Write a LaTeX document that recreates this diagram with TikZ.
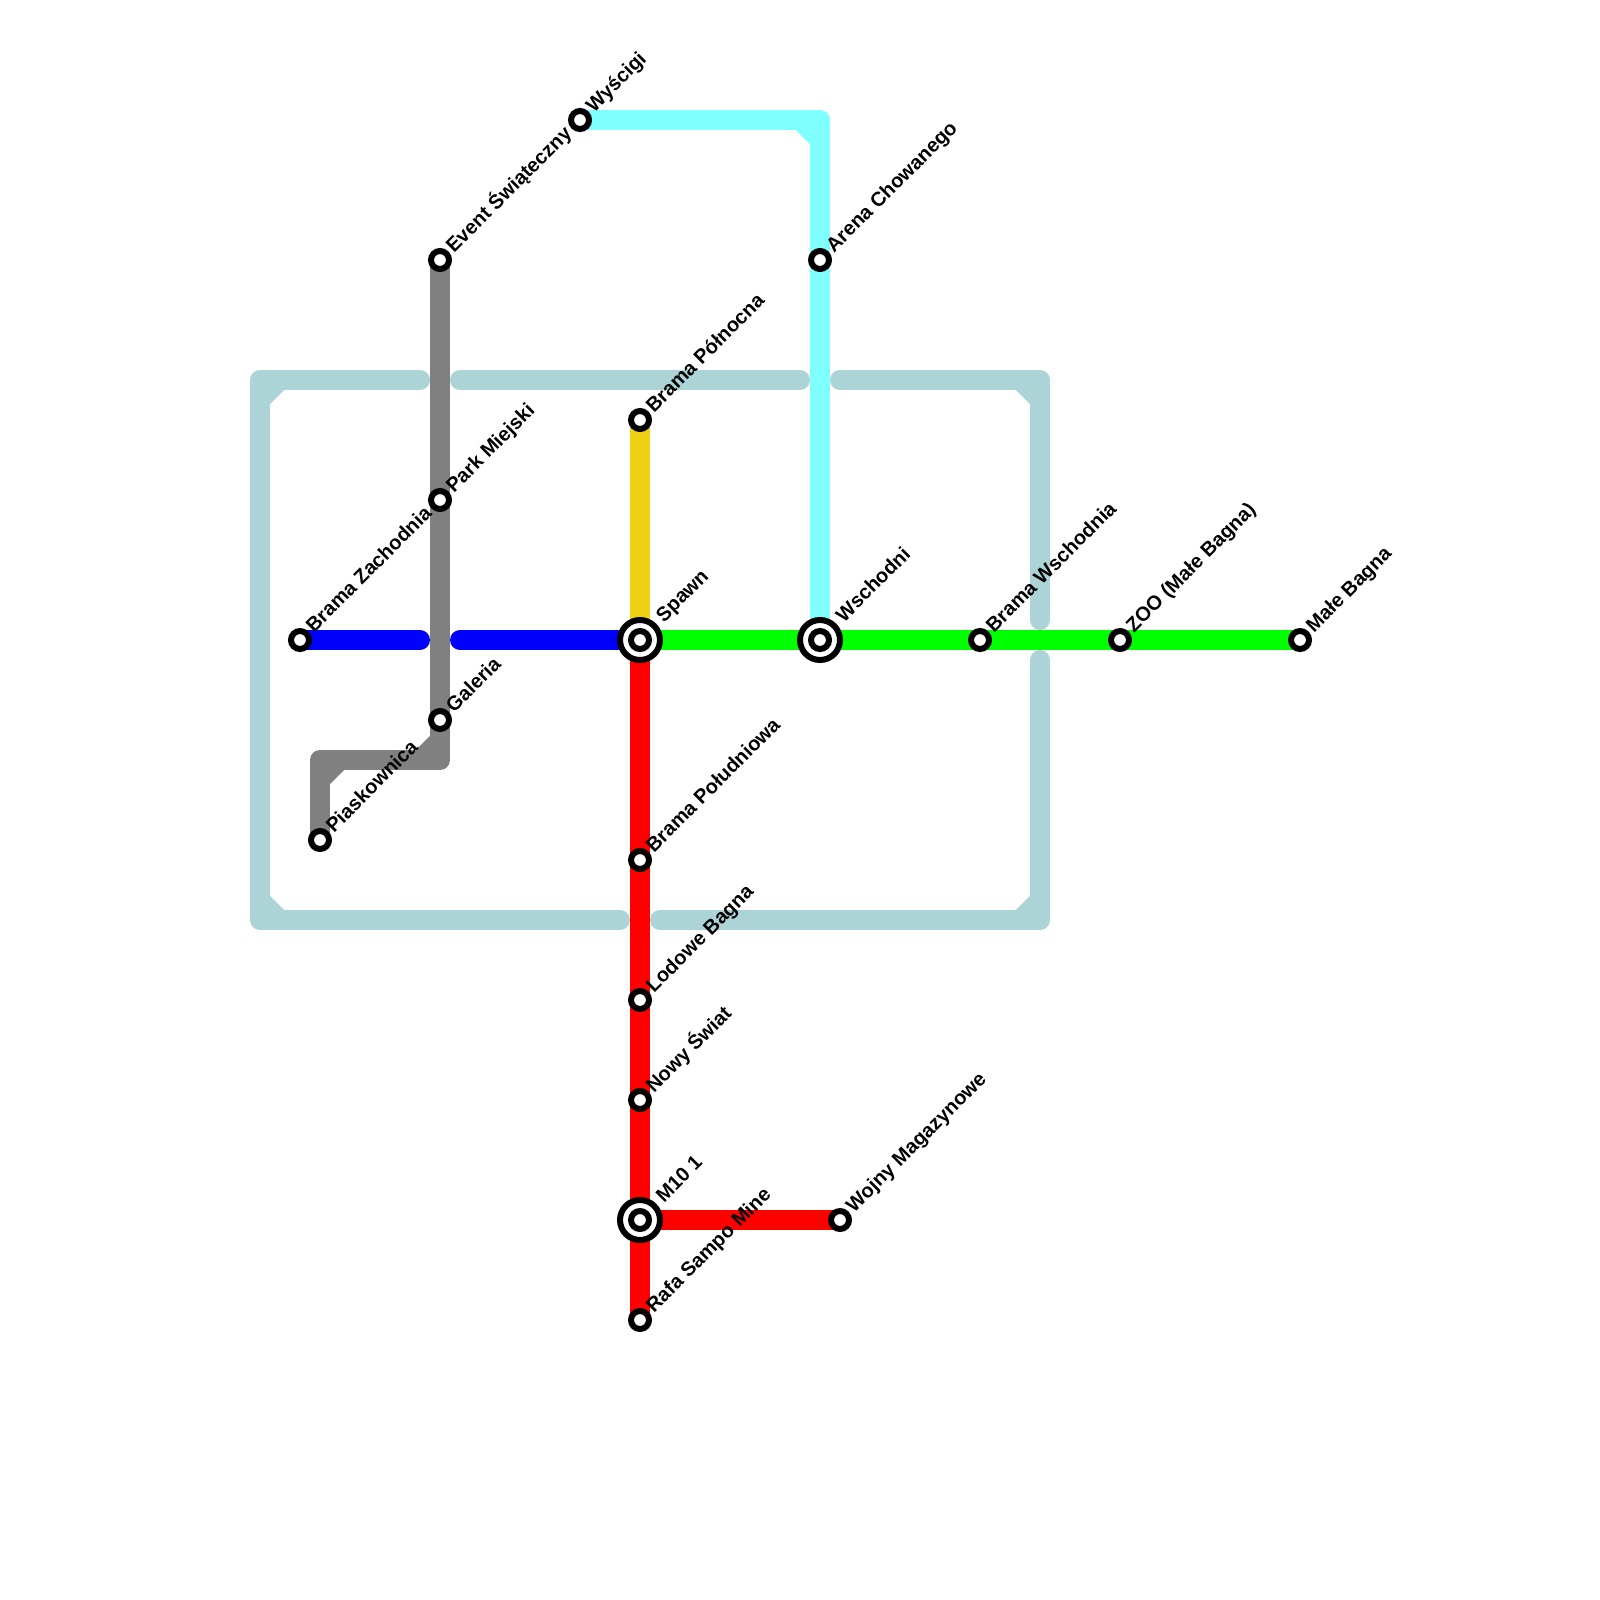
\documentclass[tikz,border=0pt]{standalone}
\usepackage{fontspec}
\setmainfont{Liberation Sans}
\definecolor{teal1}{RGB}{172,211,213}
\definecolor{yel1}{RGB}{240,208,18}
\definecolor{cyan1}{RGB}{128,255,255}
\pgfdeclarelayer{lines}
\pgfsetlayers{lines,main}
\tikzset{
 line/.style={line width=20pt,line join=round,line cap=round},
 ln/.style={line width=20pt,line cap=butt},
 stop/.style={circle,draw=black,line width=6pt,fill=white,minimum size=18pt,inner sep=0pt,outer sep=0pt},
 hub/.style={circle,draw=black,line width=6pt,fill=white,minimum size=40pt,inner sep=0pt,outer sep=0pt},
 lbl/.style={rotate=45,anchor=base west,inner sep=0pt,outer sep=0pt,font=\bfseries\fontsize{20}{20}\selectfont,text=black}
}
\newcommand{\nm}[4]{\node[lbl] (l#1) at ([xshift=#2pt,yshift=#3pt]#1.center) {#4};}
\begin{document}
\begin{tikzpicture}[x=1pt,y=-1pt]
\begin{pgfonlayer}{lines}
\fill[white] (0,0) rectangle (1600,1600);
\end{pgfonlayer}
\useasboundingbox (0,0) rectangle (1600,1600);
% stations
\node[stop] (wys) at (580,120) {};
\node[stop] (event) at (440,260) {};
\node[stop] (arena) at (820,260) {};
\node[stop] (pol) at (640,420) {};
\node[stop] (park) at (440,500) {};
\node[stop] (zach) at (300,640) {};
\node[hub] (spawn) at (640,640) {};
\node[stop] (spawni) at (640,640) {};
\node[hub] (wsch) at (820,640) {};
\node[stop] (wschi) at (820,640) {};
\node[stop] (bwsch) at (980,640) {};
\node[stop] (zoo) at (1120,640) {};
\node[stop] (male) at (1300,640) {};
\node[stop] (gal) at (440,720) {};
\node[stop] (pia) at (320,840) {};
\node[stop] (poldn) at (640,860) {};
\node[stop] (lod) at (640,1000) {};
\node[stop] (nowy) at (640,1100) {};
\node[hub] (mten) at (640,1220) {};
\node[stop] (mteni) at (640,1220) {};
\node[stop] (wojny) at (840,1220) {};
\node[stop] (rafa) at (640,1320) {};
% free ends
\foreach \n/\x/\y in {a1/420/380,a2/260/380,a3/260/920,a4/620/920,b1/660/920,b2/1040/920,b3/1040/660,c1/1040/620,c2/1040/380,c3/840/380,d1/460/380,d2/800/380,e1/420/640,e2/460/640,
 t1/260/400,t2/280/380,t3/260/900,t4/280/920,t5/1020/920,t6/1040/900,t7/1020/380,t8/1040/400,
 g1/440/760,g2/320/760,g3/420/760,g4/440/740,g5/320/780,g6/340/760,
 k1/820/120,k2/800/120,k3/820/140}
 \coordinate (\n) at (\x,\y);
\begin{pgfonlayer}{lines}
\draw[line,teal1] (a1)--(a2)--(a3)--(a4);
\draw[line,teal1] (b1)--(b2)--(b3);
\draw[line,teal1] (c1)--(c2)--(c3);
\draw[line,teal1] (d1)--(d2);
\draw[ln,teal1] (t1)--(t2);
\draw[ln,teal1] (t3)--(t4);
\draw[ln,teal1] (t5)--(t6);
\draw[ln,teal1] (t7)--(t8);
\draw[line,cyan1] (wys.center)--(k1)--(wsch.center);
\draw[ln,cyan1] (k2)--(k3);
\draw[line,gray] (event.center)--(g1)--(g2)--(pia.center);
\draw[ln,gray] (g3)--(g4);
\draw[ln,gray] (g5)--(g6);
\draw[line,blue] (zach.center)--(e1);
\draw[line,blue] (e2)--(spawn.center);
\draw[line,yel1] (pol.center)--(spawn.center);
\draw[line,green] (spawn.center)--(male.center);
\draw[line,red] (spawn.center)--(rafa.center);
\draw[line,red] (mten.center)--(wojny.center);
\end{pgfonlayer}
% labels
\nm{wys}{14}{6.5}{Wyścigi}
\nm{event}{14}{6.5}{Event Świąteczny}
\nm{arena}{14}{6.5}{Arena Chowanego}
\nm{pol}{14}{6.5}{Brama Północna}
\nm{park}{14}{6.5}{Park Miejski}
\nm{zach}{14}{6.5}{Brama Zachodnia}
\nm{spawn}{24}{17}{Spawn}
\nm{wsch}{24}{17}{Wschodni}
\nm{bwsch}{14}{6.5}{Brama Wschodnia}
\nm{zoo}{14}{6.5}{ZOO (Małe Bagna)}
\nm{male}{14}{6.5}{Małe Bagna}
\nm{gal}{14}{6.5}{Galeria}
\nm{pia}{14}{6.5}{Piaskownica}
\nm{poldn}{14}{6.5}{Brama Południowa}
\nm{lod}{14}{6.5}{Lodowe Bagna}
\nm{nowy}{14}{6.5}{Nowy Świat}
\nm{mten}{24}{17}{M10 1}
\nm{wojny}{14}{6.5}{Wojny Magazynowe}
\nm{rafa}{14}{6.5}{Rafa Sampo Mine}
\end{tikzpicture}
\end{document}
